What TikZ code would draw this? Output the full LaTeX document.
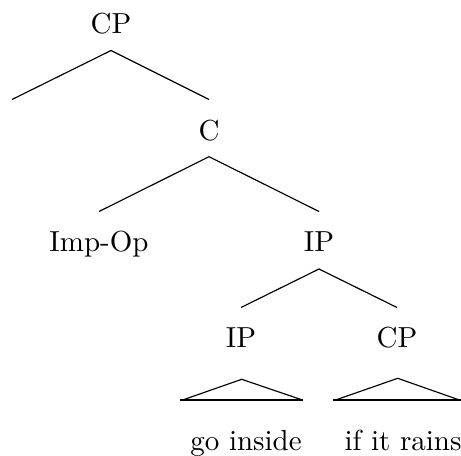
\documentclass[tikz,border=0pt]{standalone}
\begin{document}
\begin{tikzpicture}[x=0.345pt,y=-0.345pt,
  lbl/.style={anchor=base,inner sep=0pt},
  edge/.style={line width=0.4pt},
  roofbase/.style={line width=0.8pt}]
\useasboundingbox (0,0) rectangle (461,455);
% labels
\node[lbl] (cp)   at (111,33)  {CP};
\node[lbl] (c)    at (209,140) {C};
\node[lbl] (imp)  at (99,251)  {Imp-Op};
\node[lbl] (ip)   at (319,251) {IP};
\node[lbl] (ip2)  at (241,347) {IP};
\node[lbl] (cp2)  at (397,347) {CP};
\node[lbl] (go)   at (246,450) {go inside};
\node[lbl] (rain) at (403,450) {if it rains};
% branch points
\coordinate (cpT) at (111,50.5);
\coordinate (eL)  at (12,99.5);
\coordinate (cB)  at (209,99.5);
\coordinate (cT)  at (209,156.7);
\coordinate (impB) at (99,211.5);
\coordinate (ipB) at (319,211.5);
\coordinate (ipT) at (319,269);
\coordinate (ip2B) at (241,307.5);
\coordinate (cp2B) at (397,307.5);
% tree edges
\draw[edge] (eL) -- (cpT) -- (cB);
\draw[edge] (impB) -- (cT) -- (ipB);
\draw[edge] (ip2B) -- (ipT) -- (cp2B);
% roofs
\coordinate (r1A) at (241.7,379.3);
\coordinate (r1L) at (184,399.5);
\coordinate (r1R) at (301,399.5);
\coordinate (r1bL) at (180,400);
\coordinate (r1bR) at (302.5,400);
\draw[edge] (r1L) -- (r1A) -- (r1R);
\draw[roofbase] (r1bL) -- (r1bR);
\coordinate (r2A) at (397.7,378.3);
\coordinate (r2L) at (337,399.5);
\coordinate (r2R) at (458,399.5);
\coordinate (r2bL) at (333.3,400);
\coordinate (r2bR) at (460.5,400);
\draw[edge] (r2L) -- (r2A) -- (r2R);
\draw[roofbase] (r2bL) -- (r2bR);
\end{tikzpicture}
\end{document}
